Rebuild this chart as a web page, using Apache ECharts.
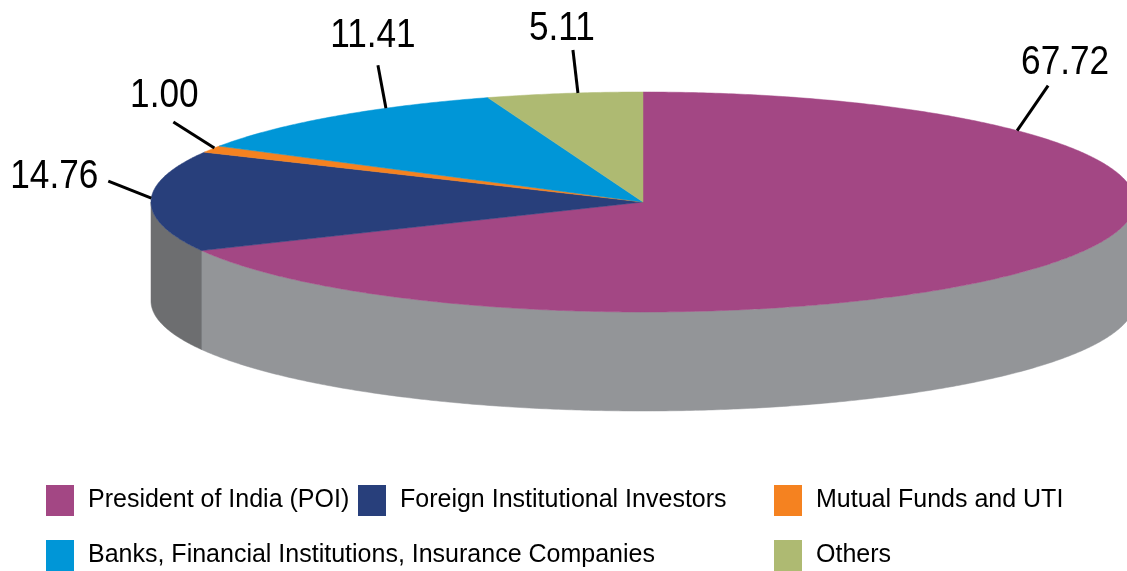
<!DOCTYPE html>
<html>
<head>
<meta charset="utf-8">
<script src="https://cdn.jsdelivr.net/npm/echarts@6/dist/echarts.min.js"></script>
<style>
  html, body { margin: 0; padding: 0; background: #fff; }
  #chart { width: 1127px; height: 571px; }
</style>
</head>
<body>
<div id="chart"></div>
<script>
// shareholding pattern (%)
var names = ['President of India (POI)', 'Foreign Institutional Investors', 'Mutual Funds and UTI',
             'Banks, Financial Institutions, Insurance Companies', 'Others'];
var values = [67.72, 14.76, 1.00, 11.41, 5.11];
var valueLabels = ['67.72', '14.76', '1.00', '11.41', '5.11'];

var colors = ['#a34784', '#283f7b', '#f58220', '#0096d7', '#aeba72'];
var wallColors = ['#939598', '#6d6e70', '#6d6e70', '#6d6e70', '#6d6e70'];

var FONT = '"Liberation Sans Narrow", "Arial Narrow", "Liberation Sans", sans-serif';

// pie geometry (pixels)
var cx = 643, cy = 202, rx = 492, ry = 110, depth = 99;

// label anchor angle on the rim (deg) + [lineDx, lineDy, textDx, textDy]
var labelAngles = [40.5, 178, 150.6, 121.5, 97.6];
var labelOffsets = [
    [31, -45, 48, -68],
    [-43, -17, -97, -21],
    [-41, -26, -50, -52],
    [-8, -43, -13, -72],
    [-5, -43, -16, -64]
];

var total = values.reduce(function (a, b) { return a + b; }, 0);
var starts = [];
var acc = 0;
values.forEach(function (v) {
    starts.push(90 - 360 * acc / total);
    acc += v;
});

function rim(deg, dy) {
    var r = deg * Math.PI / 180;
    return [cx + rx * Math.cos(r), cy - ry * Math.sin(r) + (dy || 0)];
}

function arc(from, to, dy) {
    var pts = [];
    var n = Math.max(2, Math.ceil(Math.abs(from - to) / 0.5));
    for (var k = 0; k <= n; k++) {
        pts.push(rim(from + (to - from) * k / n, dy));
    }
    return pts;
}

function renderWall(params, api) {
    var i = params.dataIndex;
    var a0 = starts[i];
    var a1 = a0 - 360 * api.value(0) / total;
    var hi = Math.min(a0, 0), lo = Math.max(a1, -180);
    if (lo >= hi) return;
    var pts = arc(hi, lo, 0).concat(arc(lo, hi, depth));
    var children = [{
        type: 'polygon',
        shape: { points: pts },
        style: { fill: wallColors[i], stroke: wallColors[i], lineWidth: 0.5 }
    }];
    if (lo > -180) {
        var p = rim(lo, 0);
        children.push({
            type: 'line',
            shape: { x1: p[0], y1: p[1], x2: p[0], y2: p[1] + depth },
            style: { stroke: '#b4b5b7', lineWidth: 1 }
        });
    }
    return { type: 'group', children: children };
}

function renderTop(params, api) {
    var i = params.dataIndex;
    var a0 = starts[i];
    var a1 = a0 - 360 * api.value(0) / total;
    var pts = [[cx, cy]].concat(arc(a0, a1, 0));
    return {
        type: 'polygon',
        shape: { points: pts },
        style: { fill: colors[i], stroke: colors[i], lineWidth: 0.5 }
    };
}

function renderLabel(params, api) {
    var i = params.dataIndex;
    var p = rim(labelAngles[i], 0);
    var o = labelOffsets[i];
    return {
        type: 'group',
        children: [{
            type: 'line',
            shape: { x1: p[0], y1: p[1], x2: p[0] + o[0], y2: p[1] + o[1] },
            style: { stroke: '#000', lineWidth: 3 }
        }, {
            type: 'text',
            x: p[0] + o[2],
            y: p[1] + o[3],
            scaleX: 0.88,
            style: {
                text: valueLabels[i],
                x: 0,
                y: 0,
                align: 'center',
                verticalAlign: 'middle',
                fill: '#000',
                font: '40px ' + FONT
            }
        }]
    };
}

var seriesData = values.map(function (v) { return [v]; });

var legendPos = [[46, 485], [358, 485], [774, 485], [46, 540], [774, 540]];
var legends = names.map(function (n, i) {
    return {
        data: [n],
        left: legendPos[i][0],
        top: legendPos[i][1],
        icon: 'rect',
        itemWidth: 28,
        itemHeight: 31,
        padding: 0,
        selectedMode: false,
        textStyle: {
            fontFamily: FONT,
            fontSize: 25,
            color: '#000',
            padding: [0, 0, 0, 9]
        }
    };
});

var myChart = echarts.init(document.getElementById('chart'));
var option = {
    animation: false,
    backgroundColor: '#fff',
    legend: legends,
    series: [{
        // only feeds the legend
        type: 'pie',
        radius: [0, 0],
        center: [cx, cy],
        silent: true,
        label: { show: false },
        labelLine: { show: false },
        data: names.map(function (n, i) {
            return { name: n, value: values[i], itemStyle: { color: colors[i] } };
        })
    }, {
        type: 'custom',
        coordinateSystem: 'none',
        silent: true,
        z: 1,
        renderItem: renderWall,
        data: seriesData
    }, {
        type: 'custom',
        coordinateSystem: 'none',
        silent: true,
        z: 2,
        renderItem: renderTop,
        data: seriesData
    }, {
        type: 'custom',
        coordinateSystem: 'none',
        silent: true,
        z: 3,
        renderItem: renderLabel,
        data: seriesData
    }]
};
myChart.setOption(option);
</script>
</body>
</html>
